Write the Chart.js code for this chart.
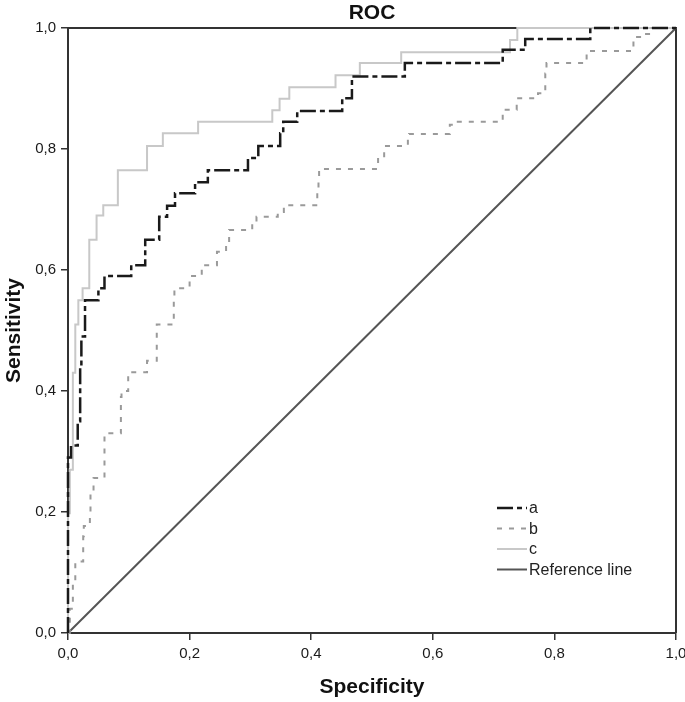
<!DOCTYPE html>
<html>
<head>
<meta charset="utf-8">
<title>ROC</title>
<script src="https://cdn.jsdelivr.net/npm/chart.js@4.4.1/dist/chart.umd.min.js"></script>
<style>
  html, body { margin: 0; padding: 0; background: #fff; }
  #roc { display: block; }
</style>
</head>
<body>
<canvas id="roc" width="685" height="702"></canvas>
<script>
// --- Values: x = point where a step rises, y = height it rises to ---
const aX = [0, 0, 0.005, 0.016, 0.02, 0.022, 0.028, 0.05, 0.06, 0.104, 0.127, 0.15, 0.163, 0.176, 0.209, 0.23, 0.296, 0.313, 0.349, 0.354, 0.377, 0.451, 0.467, 0.554, 0.715, 0.752, 0.859, 1.0];
const aY = [0, 0.29, 0.31, 0.35, 0.44, 0.49, 0.55, 0.57, 0.59, 0.608, 0.65, 0.688, 0.706, 0.727, 0.745, 0.765, 0.785, 0.805, 0.826, 0.845, 0.863, 0.884, 0.92, 0.942, 0.964, 0.982, 1.0, 1.0];

const bX = [0, 0.003, 0.008, 0.012, 0.025, 0.026, 0.036, 0.037, 0.042, 0.06, 0.087, 0.088, 0.099, 0.13, 0.146, 0.174, 0.175, 0.2, 0.22, 0.245, 0.26, 0.265, 0.303, 0.31, 0.345, 0.355, 0.41, 0.412, 0.413, 0.51, 0.52, 0.559, 0.561, 0.628, 0.635, 0.715, 0.716, 0.738, 0.773, 0.785, 0.787, 0.853, 0.93, 0.947, 0.96, 1.0];
const bY = [0, 0.04, 0.083, 0.118, 0.16, 0.177, 0.2, 0.23, 0.256, 0.33, 0.39, 0.4, 0.431, 0.45, 0.51, 0.55, 0.57, 0.59, 0.608, 0.63, 0.646, 0.666, 0.678, 0.688, 0.696, 0.707, 0.73, 0.75, 0.767, 0.785, 0.805, 0.818, 0.825, 0.84, 0.845, 0.86, 0.865, 0.884, 0.892, 0.925, 0.942, 0.962, 0.985, 0.99, 1.0, 1.0];

const cX = [0, 0, 0.003, 0.008, 0.012, 0.017, 0.024, 0.035, 0.047, 0.058, 0.082, 0.13, 0.156, 0.214, 0.336, 0.348, 0.364, 0.44, 0.48, 0.548, 0.727, 0.739, 1.0];
const cY = [0, 0.198, 0.27, 0.43, 0.51, 0.55, 0.57, 0.65, 0.69, 0.707, 0.765, 0.805, 0.826, 0.845, 0.864, 0.883, 0.902, 0.922, 0.942, 0.96, 0.98, 1.0, 1.0];

const refX = [0, 1];
const refY = [0, 1];

const seriesLabels = ['a', 'b', 'c', 'Reference line'];
const chartTitle = 'ROC';
const tickStep = 0.2;

const toPoints = (xs, ys) => xs.map((x, i) => ({ x: x, y: ys[i] }));
const fmt = v => Number(v).toFixed(1).replace('.', ',');
const FONT = '"Liberation Sans", Arial, sans-serif';

// title centred over the plot, plus top and right border of the plot box
const frameBox = {
    id: 'frameBox',
    beforeDatasetsDraw(chart) {
        const { ctx, chartArea: a } = chart;
        ctx.save();
        ctx.strokeStyle = '#333';
        ctx.lineWidth = 2;
        ctx.beginPath();
        ctx.moveTo(a.left, a.top);
        ctx.lineTo(a.right, a.top);
        ctx.lineTo(a.right, a.bottom);
        ctx.stroke();

        ctx.fillStyle = '#111';
        ctx.font = 'bold 21px ' + FONT;
        ctx.textAlign = 'center';
        ctx.textBaseline = 'middle';
        ctx.fillText(chartTitle, (a.left + a.right) / 2, 13);
        ctx.restore();
    }
};

// legend drawn inside the plot, lower right
const insideLegend = {
    id: 'insideLegend',
    afterDatasetsDraw(chart) {
        const { ctx, chartArea: a } = chart;
        const x0 = a.left + 429;
        const y0 = a.top + 480;
        chart.data.datasets.forEach((ds, i) => {
            const y = y0 + i * 20.5;
            ctx.save();
            ctx.strokeStyle = ds.borderColor;
            ctx.lineWidth = ds.borderWidth;
            ctx.setLineDash(ds.borderDash || []);
            ctx.beginPath();
            ctx.moveTo(x0, y);
            ctx.lineTo(x0 + 30, y);
            ctx.stroke();
            ctx.setLineDash([]);
            ctx.fillStyle = '#222';
            ctx.font = '16px ' + FONT;
            ctx.textBaseline = 'middle';
            ctx.fillText(ds.label, x0 + 32, y + 1);
            ctx.restore();
        });
    }
};

const axisCommon = {
    type: 'linear',
    min: 0,
    max: 1,
    grid: { display: true, drawOnChartArea: false, drawTicks: true, tickLength: 7, color: '#333', lineWidth: 1.5 },
    border: { display: true, color: '#333', width: 2 },
    ticks: { stepSize: tickStep, color: '#1a1a1a', padding: 5, font: { family: FONT, size: 15 }, callback: v => fmt(v) }
};

new Chart(document.getElementById('roc'), {
    type: 'line',
    data: {
        datasets: [
            {
                label: seriesLabels[0],
                data: toPoints(aX, aY),
                borderColor: '#1a1a1a',
                borderWidth: 2.5,
                borderDash: [16, 4, 5, 4],
                stepped: 'before'
            },
            {
                label: seriesLabels[1],
                data: toPoints(bX, bY),
                borderColor: '#9a9a9a',
                borderWidth: 2,
                borderDash: [5, 7],
                stepped: 'before'
            },
            {
                label: seriesLabels[2],
                data: toPoints(cX, cY),
                borderColor: '#c8c8c8',
                borderWidth: 2,
                stepped: 'before'
            },
            {
                label: seriesLabels[3],
                data: toPoints(refX, refY),
                borderColor: '#555555',
                borderWidth: 2
            }
        ]
    },
    options: {
        responsive: false,
        animation: false,
        devicePixelRatio: 1,
        layout: { padding: { left: 0, right: 9, top: 28, bottom: 0 } },
        elements: { point: { radius: 0, hoverRadius: 0 }, line: { fill: false, tension: 0 } },
        datasets: { line: { clip: 4 } },
        plugins: {
            legend: { display: false },
            tooltip: { enabled: false },
            title: { display: false }
        },
        scales: {
            x: Object.assign({}, axisCommon, {
                position: 'bottom',
                title: { display: true, text: 'Specificity', color: '#111', font: { family: FONT, size: 21, weight: 'bold' }, padding: { top: 0, bottom: 2 } },
                afterFit: s => { s.height = 69; s.paddingLeft = 0; s.paddingRight = 9; }
            }),
            y: Object.assign({}, axisCommon, {
                position: 'left',
                title: { display: true, text: 'Sensitivity', color: '#111', font: { family: FONT, size: 21, weight: 'bold' }, padding: { top: 1.5, bottom: 0 } },
                afterFit: s => { s.width = 68; s.paddingTop = 0; s.paddingBottom = 0; }
            })
        }
    },
    plugins: [frameBox, insideLegend]
});
</script>
</body>
</html>
